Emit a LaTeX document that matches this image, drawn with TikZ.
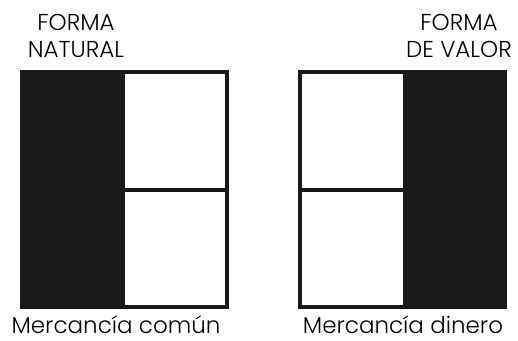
\documentclass[tikz,border=0pt]{standalone}
\usepackage{fontspec}
\setmainfont{Poppins}[UprightFont=* Light]
\usepackage{tikz}
\usetikzlibrary{positioning}

\begin{document}
\begin{tikzpicture}[x=1pt,y=-1pt,
    caption/.style={font=\fontsize{23}{27}\selectfont, inner sep=0pt, align=center}]
    \useasboundingbox (0,0) rectangle (518,340);

    % Mercancia comun: black natural form, white value cells
    \fill[black!90] (20,70) rectangle (229,309);
    \fill[white] (125,74) rectangle (225,188);
    \fill[white] (125,192) rectangle (225,305);

    % Mercancia dinero: white cells, black value form
    \fill[black!90] (298,70) rectangle (507,309);
    \fill[white] (302,74) rectangle (403,188);
    \fill[white] (302,192) rectangle (403,305);

    % Labels
    \node[caption] (natural) at (76,36) {FORMA\\NATURAL};
    \node[caption] (valor) at (459,36) {FORMA\\DE VALOR};
    \node[caption, anchor=base, text depth=0pt] (comun) at (116,333) {Mercancía común};
    \node[caption, anchor=base, text depth=0pt] (dinero) at (403,333) {Mercancía dinero};
\end{tikzpicture}
\end{document}
